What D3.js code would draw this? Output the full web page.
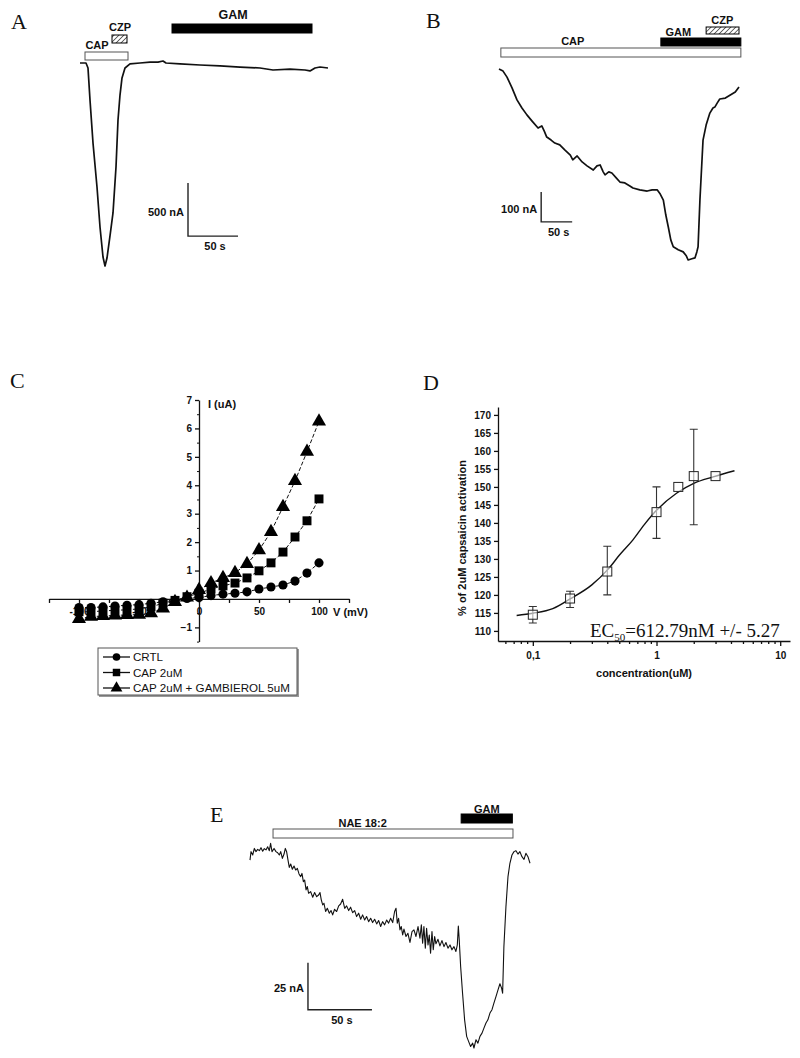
<!DOCTYPE html>
<html>
<head>
<meta charset="utf-8">
<script src="https://cdn.jsdelivr.net/npm/d3@7"></script>
<style>
  body { margin: 0; background: #fff; }
  svg text { font-family: "Liberation Sans", Arial, sans-serif; fill: #111; }
  .letter { font-family: "Liberation Serif", "Times New Roman", serif; font-size: 22px; }
  .bold { font-weight: bold; font-size: 11px; }
</style>
</head>
<body>
<svg id="fig" width="800" height="1058"></svg>
<script>
// ---- data ----

// A: time (s), current (nA)
const aTrace = [[0,0],[6,0],[8,-47],[10,-349],[13,-754],[17,-1169],[20,-1546],[23,-1829],[25,-1914],
  [27,-1839],[30,-1631],[33,-1414],[36,-980],[38,-537],[40,-302],[42,-141],[45,-47],[50,-9],[60,0],
  [70,9],[78,9],[83,19],[86,0],[100,-9],[120,-19],[140,-28],[160,-38],[180,-47],[193,-66],[210,-57],
  [225,-66],[230,-75],[235,-47],[240,-38],[248,-47]];
const aBars = [
  { label: 'CAP', start: 5, end: 48, kind: 'open' },
  { label: 'CZP', start: 32, end: 47, kind: 'hatch' },
  { label: 'GAM', start: 92, end: 232, kind: 'solid' },
];

// B
const bTime = [0,6.5,12.9,21,29,37,45,53,63,69,73,77,84,90,98,106,115,119,126,134,142,152,158,163,168,
  171,177,182,189,195,203,211,216,227,239,247,255,260,265,269,273,277,281,289,297,302,305,311,316,319,
  321,324,329,334,340,345,348,352,356,365,373,381,387];
const bCurrent = [0,-7,-27,-63,-103,-130,-153,-173,-197,-190,-207,-227,-237,-247,-253,-270,-287,-303,
  -290,-310,-323,-337,-323,-320,-343,-353,-343,-347,-363,-377,-380,-390,-397,-403,-407,-403,-403,-417,
  -437,-487,-527,-570,-593,-603,-610,-623,-637,-633,-630,-610,-593,-437,-237,-187,-147,-130,-127,-113,
  -100,-97,-87,-77,-60];
const bBars = [
  { label: 'CAP', start: 3, end: 390, kind: 'open' },
  { label: 'GAM', start: 261, end: 390, kind: 'solid' },
  { label: 'CZP', start: 334, end: 387, kind: 'hatch' },
];

// E
const eTrace = [[0,-2.7],[0.8,1.8],[2.1,0],[3.4,3.5],[4.7,1.8],[6,3],[7.3,2.3],[8.6,3.9],[9.9,2],
  [11.2,3.4],[12.5,2.7],[13.8,4.4],[15.1,2.3],[16.1,6.2],[17.2,1.8],[18.8,3.5],[20.3,1.8],[21.6,1.2],
  [22.9,0],[24,1.8],[25.3,-1.8],[26.6,0.5],[27.6,3.5],[28.6,1.8],[29.7,-2.7],[30.7,-6.6],[31.8,-4.8],
  [33.1,-7.6],[34.4,-5.9],[35.7,-8],[37,-7.1],[38.3,-10.1],[39.6,-11.5],[40.6,-9.8],[41.7,-14.2],
  [42.7,-13.3],[43.8,-18.6],[44.8,-16.8],[45.8,-20.4],[47.4,-19.5],[49,-22.5],[50.5,-20],[52.1,-22.2],
  [53.6,-21.3],[54.7,-20],[55.7,-23.9],[56.8,-26.6],[57.8,-25.7],[59.1,-30.1],[60.4,-28.4],[62,-31],
  [63.3,-29.6],[64.6,-31.9],[66.1,-28.9],[67.7,-30.1],[69.3,-27.1],[70.8,-26.1],[72.4,-23.6],[74,-28.4],
  [75.5,-27.1],[77.1,-29.6],[78.6,-27.8],[80.2,-30.7],[81.8,-29.6],[83.3,-32.8],[84.9,-31],[86.5,-34.2],
  [88,-31.9],[89.6,-34.6],[91.1,-32.8],[92.7,-35.5],[94.3,-33.7],[95.8,-36],[97.4,-34.2],[99,-36.7],
  [100.5,-34.9],[102.1,-38.1],[103.6,-35.5],[105.2,-37.2],[106.8,-34.6],[108.3,-36.3],[109.9,-33.7],
  [111.5,-36],[113,-30.1],[114.1,-28.4],[115.1,-36.3],[116.1,-33.7],[117.2,-39.9],[118.2,-38.1],
  [119.3,-42.6],[120.3,-39.5],[121.9,-43.4],[123.4,-41.7],[125,-46.6],[126.6,-40.8],[128.1,-39.9],
  [129.7,-43.4],[131.3,-38.1],[132.8,-44.3],[133.9,-37.2],[134.9,-47],[135.9,-38.1],[137,-49.6],
  [138,-39],[139.1,-47.9],[140.1,-42.6],[141.1,-52.3],[142.2,-40.8],[143.2,-50.5],[144.3,-43.4],
  [145.3,-47.3],[146.9,-44.9],[148.4,-48.4],[150,-45.6],[151.6,-48.8],[153.1,-46.6],[154.7,-49.6],
  [156.3,-47.9],[157.8,-50.5],[159.4,-48.8],[160.9,-51.4],[162,-47.9],[162.8,-37.8],[163.5,-45.2],
  [164.6,-59.4],[166.1,-73.6],[167.7,-87.8],[169.3,-96.6],[170.8,-99.3],[172.4,-102],[174,-100.2],
  [175,-102.8],[176.6,-98.4],[178.1,-100.2],[179.7,-96.6],[181.3,-94.9],[182.8,-92.2],[184.4,-89.5],
  [185.9,-87.8],[187.5,-84.2],[189.1,-82.4],[190.6,-78.9],[192.2,-75.4],[193.8,-71.8],[195.3,-68.6],
  [196.6,-70.9],[197.4,-73.6],[198.4,-48.8],[200,-27.5],[201.6,-11.5],[203.1,-4.4],[204.7,0],
  [206.3,1.8],[207.8,2.3],[209.4,0.5],[210.9,1.8],[212.5,-0.9],[214.1,-2.3],[215.6,0.9],[217.2,-0.9],
  [218.8,-4.4]];
const eBars = [
  { label: 'NAE 18:2', start: 18, end: 205.5, kind: 'open' },
  { label: 'GAM', start: 165, end: 205, kind: 'solid' },
];

// C: I-V curves, V (mV) vs I (uA)
const cVoltage = [-100,-90,-80,-70,-60,-50,-40,-30,-20,-10,0,10,20,30,40,50,60,70,80,90,100];
const cCtrl   = [-0.3,-0.3,-0.28,-0.25,-0.22,-0.2,-0.15,-0.1,-0.05,0.02,0.05,0.12,0.17,0.2,0.25,0.35,0.42,0.49,0.63,0.91,1.27];
const cCap    = [-0.45,-0.45,-0.42,-0.4,-0.38,-0.35,-0.28,-0.15,-0.05,0.08,0.2,0.35,0.46,0.56,0.74,0.99,1.27,1.65,2.18,2.75,3.52];
const cCapGam = [-0.7,-0.62,-0.6,-0.58,-0.56,-0.55,-0.5,-0.33,-0.1,0.05,0.32,0.56,0.74,0.92,1.23,1.72,2.36,3.24,4.15,5.18,6.25];
const cSeries = ['CRTL', 'CAP 2uM', 'CAP 2uM + GAMBIEROL 5uM'];
const cYTicks = [-1, 1, 2, 3, 4, 5, 6, 7];
const cXLabels = [-100, -50, 0, 50, 100];

// D: dose response
const dConc  = [0.1, 0.2, 0.4, 1, 1.5, 2, 3];
const dMean  = [114.5, 119, 126.5, 143, 150, 153, 153];
const dErrLo = [112.2, 116.5, 120, 135.7, 150, 139.5, 153];
const dErrHi = [116.8, 121, 133.5, 150, 150, 166, 153];
const dFitConc  = [0.074, 0.1, 0.145, 0.2, 0.3, 0.41, 0.5, 0.645, 0.8, 1.0, 1.46, 2.0, 2.87, 4.27];
const dFitValue = [114.3, 114.9, 116.2, 118.9, 122.8, 127.3, 131.0, 135.3, 139.6, 143.5, 148.3, 151.0, 152.8, 154.5];
const dYTicks = [110, 115, 120, 125, 130, 135, 140, 145, 150, 155, 160, 165, 170];
const dXMajor = [0.1, 1, 10];
const dXMinor = [0.06, 0.07, 0.08, 0.09, 0.2, 0.3, 0.4, 0.5, 0.6, 0.7, 0.8, 0.9, 2, 3, 4, 5, 6, 7, 8, 9];

// ---- drawing ----
const svg = d3.select('#fig');
const defs = svg.append('defs');
defs.append('pattern')
  .attr('id', 'hatch').attr('width', 3.5).attr('height', 3.5)
  .attr('patternUnits', 'userSpaceOnUse').attr('patternTransform', 'rotate(45)')
  .call((p) => {
    p.append('rect').attr('width', 3.5).attr('height', 3.5).attr('fill', '#fff');
    p.append('line').attr('x1', 0).attr('y1', 0).attr('x2', 0).attr('y2', 3.5)
      .attr('stroke', '#222').attr('stroke-width', 1.3);
  });

function letter(txt, x, y) {
  svg.append('text').attr('class', 'letter').attr('x', x).attr('y', y).text(txt);
}

function drawTrace(o) {
  const g = svg.append('g');
  const line = d3.line().x((d) => o.x(d[0])).y((d) => o.y(d[1]));

  o.bars.forEach((b, i) => {
    const lay = o.barLayout[i];
    g.append('rect')
      .attr('x', o.x(b.start)).attr('y', lay.y)
      .attr('width', o.x(b.end) - o.x(b.start)).attr('height', lay.h)
      .attr('fill', b.kind === 'solid' ? '#000' : b.kind === 'hatch' ? 'url(#hatch)' : '#fff')
      .attr('stroke', b.kind === 'open' ? '#555' : '#000').attr('stroke-width', 1);
    g.append('text').attr('class', 'bold')
      .attr('x', o.x(lay.labelT)).attr('y', lay.labelY)
      .attr('text-anchor', 'middle')
      .style('font-size', (lay.size || 11) + 'px')
      .text(b.label);
  });

  g.append('path').datum(o.trace).attr('d', line)
    .attr('fill', 'none').attr('stroke', '#111')
    .attr('stroke-width', o.width).attr('stroke-linejoin', 'round');

  // scale bar
  const sb = o.scaleBar;
  const x0 = o.x(sb.t), x1 = o.x(sb.t + sb.dt);
  const yTop = o.y(sb.i), yBot = o.y(sb.i - sb.di);
  g.append('path')
    .attr('d', `M${x0},${yTop}V${yBot}H${x1}`)
    .attr('fill', 'none').attr('stroke', '#222').attr('stroke-width', 1.4);
  g.append('text').attr('class', 'bold').attr('text-anchor', 'end')
    .attr('x', x0 - 4).attr('y', (yTop + yBot) / 2 + 6).text(sb.iLabel);
  g.append('text').attr('class', 'bold').attr('text-anchor', 'middle')
    .attr('x', (x0 + x1) / 2 + 2).attr('y', yBot + 14).text(sb.tLabel);
}

// Panel A
letter('A', 11, 29);
drawTrace({
  x: d3.scaleLinear().domain([0, 248]).range([80, 328]),
  y: d3.scaleLinear().domain([0, -1914]).range([63, 266]),
  trace: aTrace,
  width: 1.7,
  bars: aBars,
  barLayout: [
    { y: 52, h: 8, labelT: 17, labelY: 49 },
    { y: 35, h: 8, labelT: 40, labelY: 31 },
    { y: 24, h: 9, labelT: 153, labelY: 19, size: 12.5 },
  ],
  scaleBar: { t: 108, dt: 50, i: -1132, di: 500, iLabel: '500 nA', tLabel: '50 s' },
});

// Panel B
letter('B', 426, 28);
drawTrace({
  x: d3.scaleLinear().domain([0, 387]).range([499, 739]),
  y: d3.scaleLinear().domain([0, -637]).range([69, 260]),
  trace: bTime.map((t, i) => [t, bCurrent[i]]),
  width: 1.7,
  bars: bBars,
  barLayout: [
    { y: 48, h: 9, labelT: 119, labelY: 45 },
    { y: 38, h: 8, labelT: 289, labelY: 36 },
    { y: 27, h: 7, labelT: 360, labelY: 24 },
  ],
  scaleBar: { t: 68, dt: 50, i: -410, di: 100, iLabel: '100 nA', tLabel: '50 s' },
});

// Panel E
letter('E', 210, 822);
drawTrace({
  x: d3.scaleLinear().domain([0, 218.8]).range([250, 530]),
  y: d3.scaleLinear().domain([0, -102.8]).range([855, 1048]),
  trace: eTrace,
  width: 1.1,
  bars: eBars,
  barLayout: [
    { y: 829, h: 9, labelT: 88, labelY: 827 },
    { y: 814, h: 9, labelT: 185, labelY: 813 },
  ],
  scaleBar: { t: 45.3, dt: 50, i: -57.4, di: 25, iLabel: '25 nA', tLabel: '50 s' },
});

// Panel C
letter('C', 10, 388);
{
  const g = svg.append('g');
  const x = d3.scaleLinear().domain([-125, 125]).range([49, 349]);
  const y = d3.scaleLinear().domain([-1.5, 7]).range([641.6, 400]);

  const xAxis = g.append('g').attr('transform', `translate(0,${y(0)})`)
    .call(d3.axisBottom(x).tickValues(d3.range(-125, 126, 25)).tickSize(4).tickSizeOuter(0)
      .tickFormat((d) => (cXLabels.includes(d) ? d : '')));
  const yAxis = g.append('g').attr('transform', `translate(${x(0)},0)`)
    .call(d3.axisLeft(y).tickValues(cYTicks).tickSize(4).tickSizeOuter(0));
  g.append('g').attr('transform', `translate(${x(0)},0)`)
    .call(d3.axisLeft(y).tickValues(d3.range(-1.5, 7, 0.5).filter((v) => v % 1 !== 0)).tickSize(2).tickFormat(''))
    .select('.domain').remove();
  [xAxis, yAxis].forEach((a) => {
    a.selectAll('text').style('font-weight', 'bold').style('font-size', '10px')
      .style('font-family', '"Liberation Sans", Arial, sans-serif').attr('fill', '#111');
    a.selectAll('path, line').attr('stroke', '#111').attr('stroke-width', 1.3);
  });
  xAxis.selectAll('text').attr('dy', '0.9em');
  g.selectAll('.tick line').attr('stroke', '#111');

  g.append('text').attr('class', 'bold').attr('x', 208).attr('y', 408).text('I (uA)');
  g.append('text').attr('class', 'bold').attr('x', 333).attr('y', 616).text('V (mV)');

  const symbols = [d3.symbolCircle, d3.symbolSquare, d3.symbolTriangle];
  const sizes = [66, 80, 86];
  const seriesVals = [cCtrl, cCap, cCapGam];
  const line = d3.line().x((d, i) => x(cVoltage[i])).y((d) => y(d));

  seriesVals.forEach((vals) => {
    g.append('path').datum(vals).attr('d', line).attr('fill', 'none')
      .attr('stroke', '#111').attr('stroke-width', 1).attr('stroke-dasharray', '4,2');
  });
  [2, 1, 0].forEach((s) => {
    g.append('g').selectAll('path').data(seriesVals[s]).join('path')
      .attr('transform', (d, i) => `translate(${x(cVoltage[i])},${y(d)})`)
      .attr('d', d3.symbol(symbols[s], sizes[s]))
      .attr('fill', '#000');
  });

  // legend
  const lg = svg.append('g');
  lg.append('rect').attr('x', 99).attr('y', 649).attr('width', 200).attr('height', 48).attr('fill', '#999');
  lg.append('rect').attr('x', 98).attr('y', 648).attr('width', 199).attr('height', 47)
    .attr('fill', '#fff').attr('stroke', '#555').attr('stroke-width', 1);
  cSeries.forEach((name, i) => {
    const yy = 657 + i * 15.5;
    lg.append('line').attr('x1', 103).attr('x2', 130).attr('y1', yy).attr('y2', yy)
      .attr('stroke', '#111').attr('stroke-width', 1.3);
    lg.append('path').attr('transform', `translate(116.5,${yy})`)
      .attr('d', d3.symbol(symbols[i], sizes[i] * 0.7)).attr('fill', '#000');
    lg.append('text').attr('x', 133).attr('y', yy + 4.2)
      .style('font-size', '11.6px').text(name);
  });
}

// Panel D
letter('D', 423, 390);
{
  const g = svg.append('g');
  const x = d3.scaleLog().domain([0.0523, 12]).range([498, 790]);
  const y = d3.scaleLinear().domain([107.2, 172.2]).range([641, 407]);

  const yAxis = g.append('g').attr('transform', 'translate(498,0)')
    .call(d3.axisLeft(y).tickValues(dYTicks).tickSize(4).tickSizeOuter(0).tickFormat(d3.format('d')));
  const xAxis = g.append('g').attr('transform', 'translate(0,641)')
    .call(d3.axisBottom(x).tickValues(dXMajor).tickSize(5).tickSizeOuter(0)
      .tickFormat((d) => String(d).replace('.', ',')));
  g.append('g').attr('transform', 'translate(0,641)')
    .call(d3.axisBottom(x).tickValues(dXMinor).tickSize(3).tickFormat(''))
    .select('.domain').remove();
  [xAxis, yAxis].forEach((a) => {
    a.selectAll('text').style('font-weight', 'bold').style('font-size', '10px')
      .style('font-family', '"Liberation Sans", Arial, sans-serif').attr('fill', '#111');
  });
  g.selectAll('path.domain, .tick line').attr('stroke', '#111').attr('stroke-width', 1.3);
  xAxis.selectAll('text').attr('dy', '1em');

  g.append('text').attr('class', 'bold').attr('text-anchor', 'middle')
    .attr('transform', 'translate(466,538) rotate(-90)').style('font-size', '11px')
    .text('% of 2uM capsaicin activation');
  g.append('text').attr('class', 'bold').attr('text-anchor', 'middle')
    .attr('x', 644).attr('y', 677).text('concentration(uM)');

  // fitted curve
  g.append('path')
    .datum(dFitConc.map((c, i) => [x(c), y(dFitValue[i])]))
    .attr('d', d3.line().curve(d3.curveMonotoneX))
    .attr('fill', 'none').attr('stroke', '#111').attr('stroke-width', 1.4);

  // error bars
  dConc.forEach((c, i) => {
    if (dErrHi[i] - dErrLo[i] < 0.5) return;
    const cx = x(c);
    g.append('path')
      .attr('d', `M${cx},${y(dErrLo[i])}V${y(dErrHi[i])}M${cx - 4},${y(dErrLo[i])}H${cx + 4}M${cx - 4},${y(dErrHi[i])}H${cx + 4}`)
      .attr('stroke', '#333').attr('stroke-width', 1.1).attr('fill', 'none');
  });
  g.selectAll('rect.pt').data(dConc).join('rect').attr('class', 'pt')
    .attr('x', (d) => x(d) - 4.5).attr('y', (d, i) => y(dMean[i]) - 4.5)
    .attr('width', 9).attr('height', 9)
    .attr('fill', '#fff').attr('fill-opacity', 0.6).attr('stroke', '#222').attr('stroke-width', 1);

  const ec = g.append('text').attr('x', 590).attr('y', 637)
    .style('font-family', '"Liberation Serif", "Times New Roman", serif')
    .style('font-size', '19px').attr('fill', '#333');
  ec.append('tspan').text('EC');
  ec.append('tspan').attr('dy', 4).style('font-size', '11px').text('50');
  ec.append('tspan').attr('dy', -4).text('=612.79nM +/- 5.27');
}
</script>
</body>
</html>
